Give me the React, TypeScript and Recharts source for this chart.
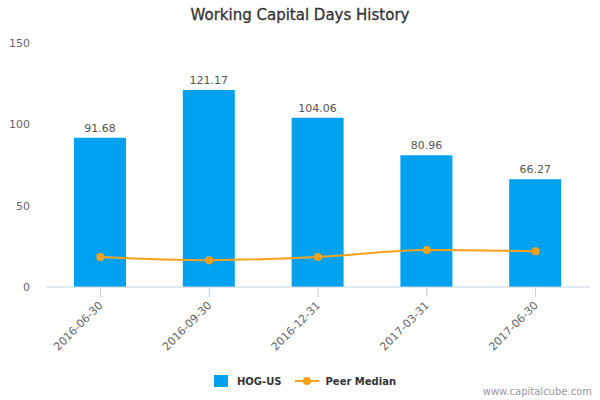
import React from 'react';
import { ComposedChart, Bar, Line, XAxis, YAxis, LabelList } from 'recharts';

const periods = ['2016-06-30', '2016-09-30', '2016-12-31', '2017-03-31', '2017-06-30'];
const hogValues = [91.68, 121.17, 104.06, 80.96, 66.27];
const peerMedian = [18.5, 16.5, 18.5, 22.8, 22.0];
const yTicks = [0, 50, 100, 150];

const BLUE = '#00a2f0';
const ORANGE = '#f9a11b';
const FONT = '"DejaVu Sans", Verdana, sans-serif';

const data = periods.map((p, i) => ({ period: p, hog: hogValues[i], peer: peerMedian[i] }));

const XTick = (props: any) => {
  const { x, y, payload } = props;
  return (
    <text
      x={x + 3}
      y={y + 7}
      textAnchor="end"
      fontSize={11}
      fill="#666"
      fontFamily={FONT}
      transform={`rotate(-45, ${x + 3}, ${y + 7})`}
    >
      {payload.value}
    </text>
  );
};

const LegendBox = () => (
  <div style={{ display: 'flex', justifyContent: 'center', alignItems: 'center', paddingLeft: 10, fontFamily: FONT, fontSize: 10, fontWeight: 'bold', color: '#333' }}>
    <span style={{ display: 'inline-block', width: 14, height: 12, background: BLUE, marginRight: 9 }} />
    <span style={{ marginRight: 13 }}>HOG-US</span>
    <svg width={24} height={12} style={{ marginRight: 7 }}>
      <line x1={0} y1={6} x2={24} y2={6} stroke={ORANGE} strokeWidth={2} />
      <circle cx={12} cy={6} r={4} fill={ORANGE} />
    </svg>
    <span>Peer Median</span>
  </div>
);

export default function App() {
  return (
    <div style={{ position: 'absolute', left: 0, top: 0, width: 600, height: 400, background: '#fff', fontFamily: FONT }}>
      <div style={{ position: 'absolute', top: 6, width: 600, textAlign: 'center', fontSize: 15, color: '#333', WebkitTextStroke: '0.3px #333' }}>
        Working Capital Days History
      </div>
      <ComposedChart width={600} height={400} data={data} margin={{ top: 43, right: 10, left: 0, bottom: 83 }}>
        <XAxis
          dataKey="period"
          tick={<XTick />}
          tickLine={{ stroke: '#c0d0e0' }}
          axisLine={{ stroke: '#c0d0e0' }}
          tickSize={10}
          interval={0}
        />
        <YAxis
          width={46}
          domain={[0, 150]}
          ticks={yTicks}
          axisLine={false}
          tickLine={false}
          tickSize={0}
          tickMargin={16}
          tick={{ fontSize: 11, fill: '#666', fontFamily: FONT }}
        />
        <Bar dataKey="hog" fill={BLUE} barSize={52} isAnimationActive={false}>
          <LabelList dataKey="hog" position="top" offset={6} fontSize={11} fill="#555" fontFamily={FONT} formatter={(v: any) => Number(v).toFixed(2)} />
        </Bar>
        <Line
          dataKey="peer"
          type="monotone"
          stroke={ORANGE}
          strokeWidth={2}
          dot={{ r: 4, fill: ORANGE, stroke: ORANGE, strokeWidth: 0 }}
          activeDot={false}
          isAnimationActive={false}
        />
      </ComposedChart>
      <div style={{ position: 'absolute', top: 375, width: 600 }}>
        <LegendBox />
      </div>
      <div style={{ position: 'absolute', top: 386, right: 8, fontSize: 10, color: '#999' }}>www.capitalcube.com</div>
    </div>
  );
}
